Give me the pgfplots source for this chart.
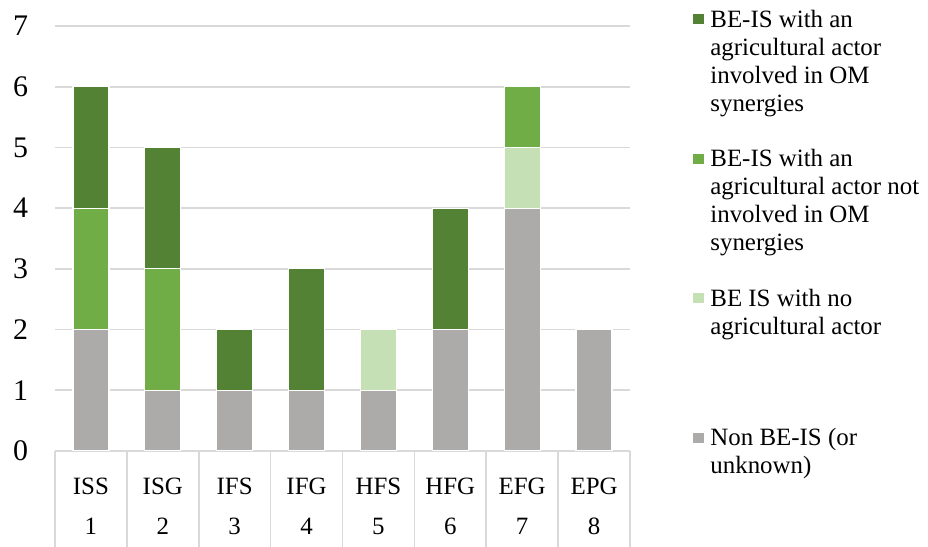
\documentclass[border=0pt]{standalone}
\usepackage{fontspec}
\setmainfont{Liberation Serif}
\usepackage{pgfplots}
\pgfplotsset{compat=1.18}
\definecolor{cgray}{HTML}{ADAAAA}
\definecolor{clight}{HTML}{C5E0B4}
\definecolor{cmid}{HTML}{70AD47}
\definecolor{cdark}{HTML}{548235}
\definecolor{cgrid}{HTML}{D9D9D9}
\pgfplotsset{sq/.style={legend image code/.code={\fill[##1,draw=none] (0bp,-8.45bp) rectangle (5.5bp,-3.45bp);}}}

\begin{document}
\begin{tikzpicture}
\begin{axis}[
  scale only axis, width=287.5bp, height=212.5bp,
  ybar stacked, bar width=18bp,
  xmin=0.5, xmax=8.5, ymin=0, ymax=7,
  xtick={1,...,8},
  xticklabels={ISS\\1, ISG\\2, IFS\\3, IFG\\4, HFS\\5, HFG\\6, EFG\\7, EPG\\8},
  minor xtick={0.5,1.5,...,8.5},
  ytick={0,...,7},
  xtick pos=bottom, ytick pos=left,
  ymajorgrids, grid style={cgrid, line width=0.8pt},
  axis line style={draw=none},
  tick align=outside,
  major tick length=0pt,
  minor tick length=48bp,
  minor tick style={cgrid, line width=0.8pt},
  /pgf/number format/assume math mode=true,
  yticklabel style={font=\fontsize{15}{15}\selectfont, xshift=-10bp},
  xticklabel style={font=\fontsize{12.5}{20}\selectfont, align=center, anchor=north, inner sep=0pt, yshift=-13.5bp},
  reverse legend,
  legend cell align=left,
  legend style={at={(1,1)}, anchor=north west, xshift=31.5bp, yshift=9.5bp,
    draw=none, fill=none, inner sep=0pt, row sep=2.5bp, column sep=3bp,
    font=\fontsize{12.5}{14}\selectfont,
    nodes={inner sep=0pt, align=left, anchor=north west}},
]
\addplot[fill=cgray, draw=white, line width=0.6pt, sq] coordinates {(1,2) (2,1) (3,1) (4,1) (5,1) (6,2) (7,4) (8,2)};
\addplot[fill=clight, draw=white, line width=0.6pt, sq] coordinates {(1,0) (2,0) (3,0) (4,0) (5,1) (6,0) (7,1) (8,0)};
\addplot[fill=cmid, draw=white, line width=0.6pt, sq] coordinates {(1,2) (2,2) (3,0) (4,0) (5,0) (6,0) (7,1) (8,0)};
\addplot[fill=cdark, draw=white, line width=0.6pt, sq] coordinates {(1,2) (2,2) (3,1) (4,2) (5,0) (6,2) (7,0) (8,0)};
\legend{{\strut Non BE-IS (or\\unknown\strut)},
  {\strut BE IS with no\\agricultural actor\\\strut\\\strut\\\strut},
  {\strut BE-IS with an\\agricultural actor not\\involved in OM\\synergies\\\strut},
  {\strut BE-IS with an\\agricultural actor\\involved in OM\\synergies\\\strut}}
\coordinate (O) at (rel axis cs:0,0);
\coordinate (T) at (rel axis cs:1,1);
\end{axis}
\pgfresetboundingbox
\path ([shift={(-27.5bp,-48bp)}]O) rectangle ([shift={(149bp,13bp)}]T);
\end{tikzpicture}
\end{document}
